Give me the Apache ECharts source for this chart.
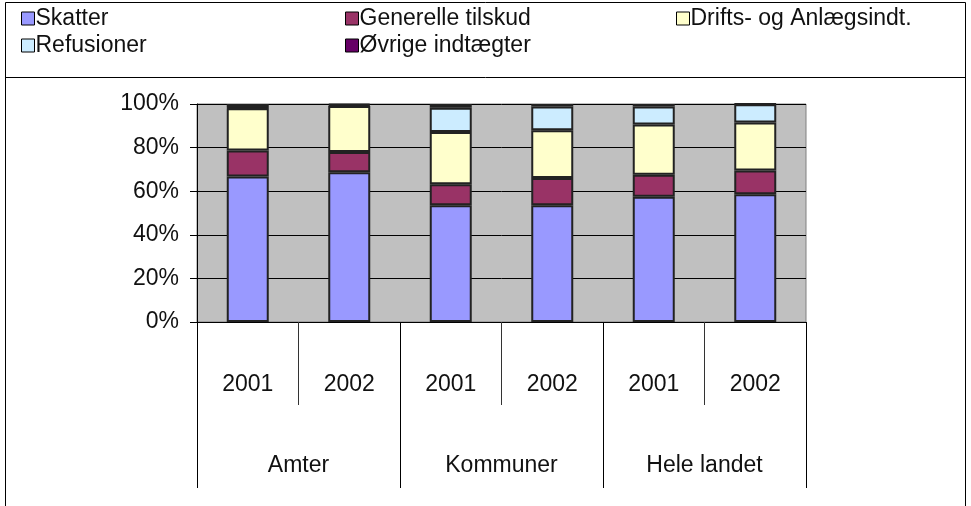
<!DOCTYPE html>
<html>
<head>
<meta charset="utf-8">
<script src="https://cdn.jsdelivr.net/npm/echarts@6/dist/echarts.min.js"></script>
<style>
  html, body { margin: 0; padding: 0; background: #fff; }
  #main { width: 971px; height: 506px; }
</style>
</head>
<body>
<div id="main"></div>
<script>
var chart = echarts.init(document.getElementById('main'));

// data (percent of total per column)
var years = ['2001', '2002', '2001', '2002', '2001', '2002'];
var groups = ['Amter', 'Kommuner', 'Hele landet'];
var names = ['Skatter', 'Generelle tilskud', 'Drifts- og Anlægsindt.', 'Refusioner', 'Øvrige indtægter'];
var skatter = [66.7, 68.7, 53.6, 53.6, 57.5, 58.6];
var generelle = [12.0, 9.3, 9.6, 12.4, 10.0, 10.9];
var drifts = [19.3, 21.1, 23.9, 22.0, 23.1, 22.0];
var refusioner = [0.3, 0.4, 11.2, 10.9, 8.3, 8.4];
var ovrige = [1.7, 0.5, 1.7, 1.1, 1.1, 0.1];
var colors = ['#9999FF', '#993366', '#FFFFCC', '#CCECFF', '#660066'];
var values = [skatter, generelle, drifts, refusioner, ovrige];

var font = 'Liberation Sans, Arial, sans-serif';
var fs = 23;

function legendBox(left, items) {
    return {
        orient: 'vertical',
        left: left,
        top: 2,
        itemWidth: 13,
        itemHeight: 13,
        itemGap: 4,
        icon: 'rect',
        selectedMode: false,
        data: items,
        itemStyle: { borderColor: '#000', borderWidth: 1 },
        textStyle: { fontFamily: font, fontSize: fs, color: '#111', padding: [0, 0, 0, -4] }
    };
}

var series = [];
for (var i = 0; i < names.length; i++) {
    series.push({
        name: names[i],
        type: 'bar',
        stack: 'total',
        barWidth: 42,
        xAxisIndex: 0,
        itemStyle: { color: colors[i], borderColor: '#222', borderWidth: 2 },
        data: values[i]
    });
}

var option = {
    animation: false,
    backgroundColor: '#fff',
    legend: [
        legendBox(16, [names[0], names[3]]),
        legendBox(340, [names[1], names[4]]),
        legendBox(671, [names[2]])
    ],
    grid: {
        left: 197,
        right: 165,
        top: 104,
        bottom: 184,
        show: true,
        backgroundColor: '#C0C0C0',
        borderColor: '#808080',
        borderWidth: 1
    },
    xAxis: [
        {
            type: 'category',
            data: years,
            position: 'bottom',
            axisLine: { lineStyle: { color: '#000', width: 1 } },
            axisTick: { show: true, interval: 0, length: 83, lineStyle: { color: '#333' } },
            axisLabel: { interval: 0, margin: 51, fontFamily: font, fontSize: fs, color: '#111' }
        },
        {
            type: 'category',
            data: groups,
            position: 'bottom',
            axisLine: { show: false },
            axisTick: { show: true, interval: 0, length: 166, lineStyle: { color: '#000' } },
            axisLabel: { interval: 0, margin: 132, fontFamily: font, fontSize: fs, color: '#111' }
        }
    ],
    yAxis: {
        type: 'value',
        min: 0,
        max: 100,
        interval: 20,
        axisLine: { show: true, lineStyle: { color: '#000' } },
        axisTick: { show: true, length: 7, lineStyle: { color: '#000' } },
        splitLine: { show: true, lineStyle: { color: '#000', width: 1 } },
        axisLabel: { margin: 18, fontFamily: font, fontSize: fs, color: '#111', formatter: '{value}%' }
    },
    graphic: [
        {
            type: 'rect',
            shape: { x: 5.5, y: 2.5, width: 960, height: 510 },
            style: { fill: null, stroke: '#000', lineWidth: 1 },
            z: 100
        },
        {
            type: 'line',
            shape: { x1: 5.5, y1: 77.5, x2: 965.5, y2: 77.5 },
            style: { stroke: '#000', lineWidth: 1 },
            z: 100
        }
    ],
    series: series
};

chart.setOption(option);
</script>
</body>
</html>
